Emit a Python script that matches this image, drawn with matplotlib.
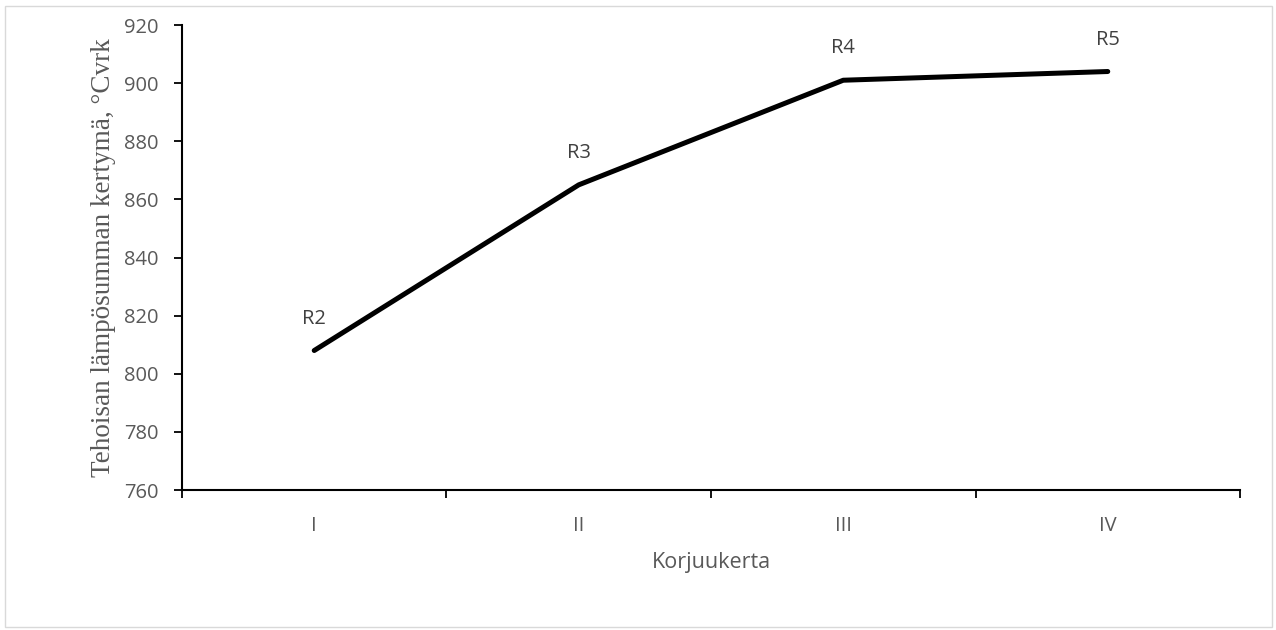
import matplotlib.pyplot as plt
from matplotlib.patches import Rectangle

categories = ['I', 'II', 'III', 'IV']
values = [808, 865, 901, 904]
point_labels = ['R2', 'R3', 'R4', 'R5']
y_ticks = [760, 780, 800, 820, 840, 860, 880, 900, 920]

fig = plt.figure(figsize=(12.76, 6.30), dpi=100)
ax = fig.add_axes([0.1426, 0.2222, 0.8292, 0.7381])

x = list(range(len(categories)))
ax.plot(x, values, color='black', linewidth=3.6, solid_capstyle='round',
        solid_joinstyle='round')

for xi, v, lab in zip(x, values, point_labels):
    ax.annotate(lab, (xi, v), xytext=(0, 23), textcoords='offset points',
                ha='center', va='center', fontsize=14.5, color='#404040',
                family='Open Sans')

ax.set_xlim(-0.5, len(categories) - 0.5)
ax.set_ylim(760, 920)
ax.set_yticks(y_ticks)

# category labels between the tick marks
ax.set_xticks([i - 0.5 for i in range(len(categories) + 1)])
ax.set_xticklabels([])
ax.set_xticks(x, minor=True)
ax.set_xticklabels(categories, minor=True)
ax.tick_params(axis='x', which='minor', length=0, pad=19)
ax.tick_params(axis='x', which='major', length=6, width=1.3, direction='out')
ax.tick_params(axis='y', length=6, width=1.3, direction='out', pad=11)

for t in ax.get_yticklabels() + ax.get_xticklabels(minor=True):
    t.set_fontsize(14.5)
    t.set_color('#595959')
    t.set_family('Open Sans')

ax.spines['top'].set_visible(False)
ax.spines['right'].set_visible(False)
ax.spines['left'].set_linewidth(1.5)
ax.spines['bottom'].set_linewidth(1.5)

ax.set_xlabel('Korjuukerta', fontsize=15.5, color='#595959', family='Open Sans',
              labelpad=11)
ax.set_ylabel('Tehoisan lämpösumman kertymä, °Cvrk', fontsize=19.5, color='#595959',
              family='Liberation Serif', labelpad=6)

fig.patches.append(Rectangle((0.004, 0.004), 0.993, 0.986, transform=fig.transFigure,
                             fill=False, edgecolor='#d9d9d9', linewidth=1))

plt.savefig('out.png', dpi=100)
plt.close()
